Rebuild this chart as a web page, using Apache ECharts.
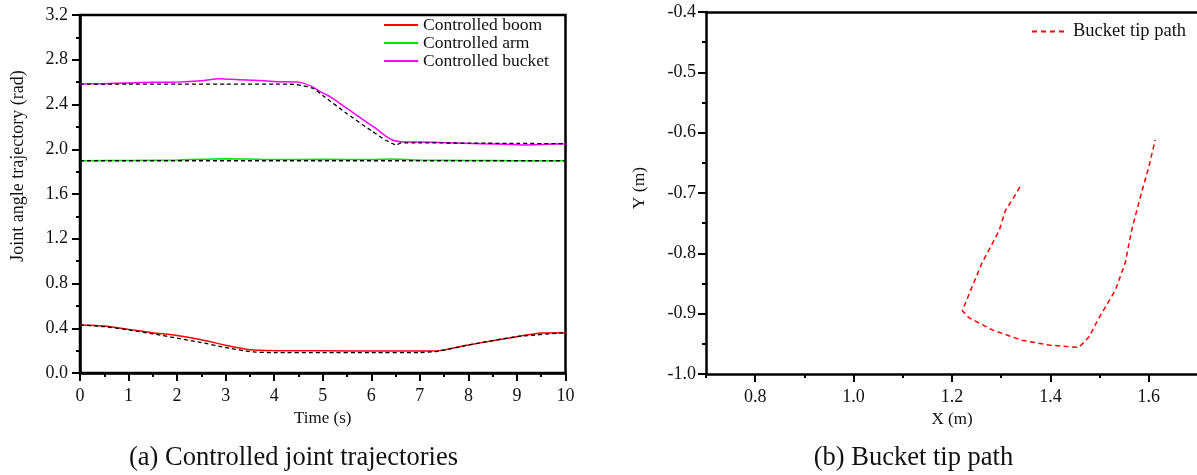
<!DOCTYPE html>
<html>
<head>
<meta charset="utf-8">
<script src="https://cdn.jsdelivr.net/npm/echarts@6/dist/echarts.min.js"></script>
<style>
html, body { margin: 0; padding: 0; background: #fff; }
#chart { width: 1197px; height: 475px; }
</style>
</head>
<body>
<div id="chart"></div>
<script>
// ---- Joint trajectories (time in s, angle in rad) ----
const boomT   = [0, 0.5, 1, 1.5, 2, 2.5, 3, 3.5, 4, 5, 6, 7, 7.4, 8, 8.5, 9, 9.5, 10];
const boomV   = [0.43, 0.42, 0.39, 0.36, 0.335, 0.298, 0.248, 0.208, 0.2, 0.198, 0.196, 0.196, 0.2, 0.25, 0.288, 0.325, 0.357, 0.36];
const boomRefT = [0, 0.5, 1, 1.5, 2, 2.5, 3, 3.5, 4, 5, 6, 7, 7.3, 7.5, 8, 9, 10];
const boomRefV = [0.43, 0.415, 0.385, 0.35, 0.312, 0.272, 0.228, 0.19, 0.182, 0.182, 0.182, 0.183, 0.19, 0.205, 0.25, 0.325, 0.36];

const armT   = [0, 1, 2, 2.5, 3, 3.5, 4, 5, 6, 6.4, 6.6, 7, 8, 9, 10];
const armV   = [1.898, 1.9, 1.905, 1.91, 1.915, 1.912, 1.908, 1.91, 1.908, 1.913, 1.91, 1.903, 1.9, 1.898, 1.898];
const armRefT = [0, 10];
const armRefV = [1.897, 1.897];

const bucketT = [0, 0.5, 1, 1.5, 2, 2.5, 2.85, 3.3, 3.8, 4.1, 4.5, 4.75, 4.95, 5.15, 5.5, 5.85, 6.1, 6.32, 6.45, 6.6, 7, 7.55, 8.25, 8.8, 9.2, 9.6, 10];
const bucketV = [2.583, 2.586, 2.593, 2.598, 2.6, 2.612, 2.63, 2.622, 2.612, 2.604, 2.6, 2.566, 2.515, 2.47, 2.365, 2.258, 2.185, 2.11, 2.08, 2.068, 2.064, 2.059, 2.05, 2.045, 2.038, 2.045, 2.047];
const bucketRefT = [0, 1, 2, 3, 4, 4.4, 4.6, 4.8, 5.0, 5.5, 6.0, 6.3, 6.52, 6.6, 7, 8, 9, 10];
const bucketRefV = [2.583, 2.583, 2.583, 2.583, 2.583, 2.58, 2.568, 2.545, 2.48, 2.318, 2.166, 2.08, 2.038, 2.056, 2.057, 2.055, 2.052, 2.05];

// ---- Bucket tip path (m) ----
const tipX = [1.338, 1.322, 1.309, 1.296, 1.261, 1.238, 1.221, 1.235, 1.282, 1.342, 1.397, 1.458, 1.479, 1.496, 1.532, 1.552, 1.565, 1.585, 1.600, 1.613];
const tipY = [-0.690, -0.712, -0.728, -0.762, -0.816, -0.861, -0.895, -0.907, -0.927, -0.944, -0.952, -0.956, -0.938, -0.911, -0.861, -0.816, -0.762, -0.700, -0.657, -0.612];

// ---- Tick labels ----
const tipXTicks = [0.8, 1.0, 1.2, 1.4, 1.6];

const zip = (a, b) => a.map((v, i) => [v, b[i]]);
const SERIF = "'Liberation Serif', 'Times New Roman', serif";
const INK = '#111';
const TICK_FONT = 18;

const solidIcon = 'path://M0,0H34V2H0Z';
const dashIcon = 'path://M0,0H5V2H0Z M9,0H14V2H9Z M18,0H23V2H18Z M27,0H32V2H27Z';

function axisLine() { return { show: true, onZero: false, lineStyle: { color: '#000', width: 2.5 } }; }

const chart = echarts.init(document.getElementById('chart'), null, { renderer: 'canvas' });

chart.setOption({
  animation: false,
  backgroundColor: '#fff',
  textStyle: { fontFamily: SERIF },
  grid: [
    { left: 80, top: 15, width: 485.5, height: 358, show: true, borderColor: '#000', borderWidth: 2.5, backgroundColor: 'transparent', outerBoundsMode: 'none' },
    { left: 706, top: 12, width: 492, height: 362, show: false, outerBoundsMode: 'none' }
  ],
  xAxis: [
    {
      gridIndex: 0, type: 'value', min: 0, max: 10, interval: 1,
      name: 'Time (s)', nameLocation: 'middle', nameGap: 34,
      nameTextStyle: { fontFamily: SERIF, fontSize: 17, color: INK },
      axisLine: axisLine(),
      axisTick: { show: true, inside: false, length: 8, lineStyle: { color: '#000', width: 2 } },
      minorTick: { show: true, splitNumber: 2, length: 4, lineStyle: { color: '#000', width: 2 } },
      axisLabel: { fontFamily: SERIF, fontSize: TICK_FONT, color: INK, margin: 14 },
      splitLine: { show: false }
    },
    {
      gridIndex: 1, type: 'value', min: 0.7, max: 1.7, interval: 0.2,
      name: 'X (m)', nameLocation: 'middle', nameGap: 35,
      nameTextStyle: { fontFamily: SERIF, fontSize: 17, color: INK },
      axisLine: axisLine(),
      axisTick: { show: true, length: 8, customValues: tipXTicks, lineStyle: { color: '#000', width: 2 } },
      axisLabel: { fontFamily: SERIF, fontSize: TICK_FONT, color: INK, margin: 14, customValues: tipXTicks, formatter: v => v.toFixed(1) },
      splitLine: { show: false }
    },
    {
      // short ticks every 0.1 m along X
      gridIndex: 1, type: 'value', min: 0.7, max: 1.7, interval: 0.1, position: 'bottom',
      axisLine: { show: false },
      axisTick: { show: true, length: 4, lineStyle: { color: '#000', width: 2 } },
      axisLabel: { show: false },
      splitLine: { show: false }
    },
    {
      // frame line along the top of the tip-path plot
      gridIndex: 1, type: 'value', min: 0.7, max: 1.7, position: 'top',
      axisLine: axisLine(),
      axisTick: { show: false },
      axisLabel: { show: false },
      splitLine: { show: false }
    }
  ],
  yAxis: [
    {
      gridIndex: 0, type: 'value', min: 0, max: 3.2, interval: 0.4,
      name: 'Joint angle trajectory (rad)', nameLocation: 'middle', nameGap: 53,
      nameTextStyle: { fontFamily: SERIF, fontSize: 18, color: INK, padding: [0, 0, 0, 56] },
      axisLine: axisLine(),
      axisTick: { show: true, length: 8, lineStyle: { color: '#000', width: 2 } },
      minorTick: { show: true, splitNumber: 2, length: 4, lineStyle: { color: '#000', width: 2 } },
      axisLabel: { fontFamily: SERIF, fontSize: TICK_FONT, color: INK, margin: 12, formatter: v => v.toFixed(1) },
      splitLine: { show: false }
    },
    {
      gridIndex: 1, type: 'value', min: -1.0, max: -0.4, interval: 0.1,
      name: 'Y (m)', nameLocation: 'middle', nameGap: 58,
      nameTextStyle: { fontFamily: SERIF, fontSize: 17.5, color: INK, padding: [0, 0, 0, 10] },
      axisLine: axisLine(),
      axisTick: { show: true, length: 8, lineStyle: { color: '#000', width: 2 } },
      minorTick: { show: true, splitNumber: 2, length: 4, lineStyle: { color: '#000', width: 2 } },
      axisLabel: { fontFamily: SERIF, fontSize: TICK_FONT, color: INK, margin: 10, formatter: v => v.toFixed(1) },
      splitLine: { show: false }
    }
  ],
  legend: [
    {
      left: 384, top: 16, orient: 'vertical', padding: 0, itemGap: 0,
      itemWidth: 34, itemHeight: 12,
      data: [
        { name: 'Controlled boom', icon: solidIcon },
        { name: 'Controlled arm', icon: solidIcon },
        { name: 'Controlled bucket', icon: solidIcon }
      ],
      textStyle: { fontFamily: SERIF, fontSize: 17.5, color: INK, lineHeight: 16.7 }
    },
    {
      left: 1032, top: 22, orient: 'vertical', padding: 0,
      itemWidth: 32, itemHeight: 12,
      data: [{ name: 'Bucket tip path', icon: dashIcon }],
      textStyle: { fontFamily: SERIF, fontSize: 18.5, color: INK, lineHeight: 18, padding: [0, 0, 0, 4] }
    }
  ],
  graphic: [
    { type: 'text', x: 293.5, y: 458, style: { text: '(a) Controlled joint trajectories', font: "26.5px 'Liberation Serif', serif", fill: INK, textAlign: 'center', textVerticalAlign: 'middle' } },
    { type: 'text', x: 913.5, y: 458, style: { text: '(b) Bucket tip path', font: "26.5px 'Liberation Serif', serif", fill: INK, textAlign: 'center', textVerticalAlign: 'middle' } }
  ],
  series: [
    { name: 'Controlled boom', type: 'line', xAxisIndex: 0, yAxisIndex: 0, data: zip(boomT, boomV), symbol: 'none', smooth: 0.2, color: '#ff0000', lineStyle: { color: '#ff0000', width: 1.5 }, z: 2 },
    { name: 'Controlled arm', type: 'line', xAxisIndex: 0, yAxisIndex: 0, data: zip(armT, armV), symbol: 'none', smooth: 0.2, color: '#00e000', lineStyle: { color: '#00e000', width: 1.5 }, z: 2 },
    { name: 'Controlled bucket', type: 'line', xAxisIndex: 0, yAxisIndex: 0, data: zip(bucketT, bucketV), symbol: 'none', smooth: 0.2, color: '#ff00ff', lineStyle: { color: '#ff00ff', width: 1.5 }, z: 2 },
    { name: 'Desired boom', type: 'line', xAxisIndex: 0, yAxisIndex: 0, data: zip(boomRefT, boomRefV), symbol: 'none', smooth: 0.2, lineStyle: { color: '#000', width: 1.3, type: [4, 3] }, z: 3 },
    { name: 'Desired arm', type: 'line', xAxisIndex: 0, yAxisIndex: 0, data: zip(armRefT, armRefV), symbol: 'none', lineStyle: { color: '#000', width: 1.3, type: [4, 3] }, z: 3 },
    { name: 'Desired bucket', type: 'line', xAxisIndex: 0, yAxisIndex: 0, data: zip(bucketRefT, bucketRefV), symbol: 'none', smooth: 0.15, lineStyle: { color: '#000', width: 1.3, type: [4, 3] }, z: 3 },
    { name: 'Bucket tip path', type: 'line', xAxisIndex: 1, yAxisIndex: 1, data: zip(tipX, tipY), symbol: 'none', color: '#ff0000', lineStyle: { color: '#ff0000', width: 1.5, type: [5, 3.5] }, z: 3 }
  ]
});
</script>
</body>
</html>
